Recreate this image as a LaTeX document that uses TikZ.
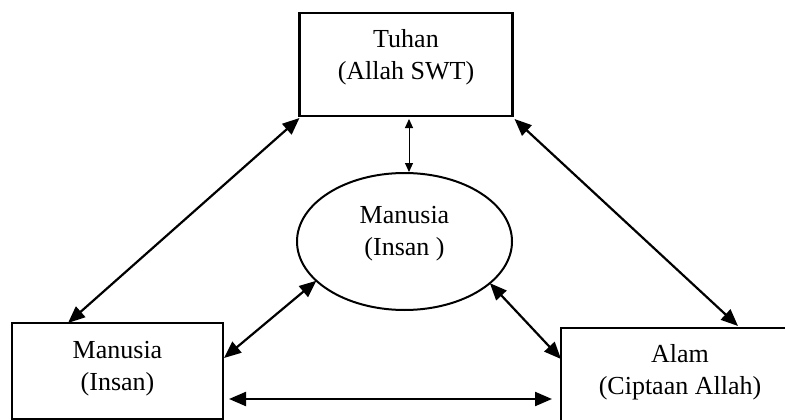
\documentclass[tikz,border=0pt]{standalone}
\usepackage{fontspec}
\setmainfont{Liberation Serif}
\usetikzlibrary{arrows.meta,shapes.geometric,calc}
\tikzset{
  boxnode/.style={draw, line width=2.2pt, rectangle, inner sep=0pt, outer sep=0pt},
  ellnode/.style={draw, line width=2pt, ellipse, inner sep=0pt, outer sep=0pt},
  txt/.style={align=center, inner sep=0pt, font=\fontsize{26}{32}\selectfont},
  bigarrow/.style={line width=2.2pt, {Triangle[length=17pt,width=14pt]}-{Triangle[length=17pt,width=14pt]}},
  smallarrow/.style={line width=1pt, {Triangle[length=9pt,width=8pt]}-{Triangle[length=9pt,width=8pt]}}
}
\begin{document}
\begin{tikzpicture}[x=1pt,y=-1pt]
\useasboundingbox (0,0) rectangle (785,420);
\clip (0,0) rectangle (785,420);
\node[boxnode, minimum width=213pt, minimum height=103pt] (tuhan) at (406,64.5) {};
\node[txt] (tuhantext) at (406,57) {Tuhan\\(Allah SWT)};
\node[boxnode, minimum width=211pt, minimum height=96pt] (kiri) at (117.5,371) {};
\node[txt] (kiritext) at (117.5,369) {Manusia\\(Insan)};
\node[boxnode, minimum width=239pt, minimum height=97pt] (alam) at (680.5,376.5) {};
\node[txt] (alamtext) at (680,372) {Alam\\(Ciptaan Allah)};
\node[ellnode, minimum width=215pt, minimum height=137pt] (insan) at (404.5,241.5) {};
\node[txt] (insantext) at (404.5,234) {Manusia\\(Insan )};
\draw[bigarrow] ([shift={(0,2)}]tuhan.south west) -- ([shift={(56,0)}]kiri.north west);
\draw[bigarrow] ([shift={(2,3)}]tuhan.south east) -- ([shift={(177,-2)}]alam.north west);
\draw[smallarrow] ([shift={(3,3)}]tuhan.south) -- ([shift={(4.5,-1)}]insan.north);
\draw[bigarrow] (insan.204) -- ([shift={(1,-13)}]kiri.east);
\draw[bigarrow] (insan.334) -- ([shift={(0,-17.5)}]alam.west);
\draw[bigarrow] ([shift={(6,28)}]kiri.east) -- ([shift={(-9,22.5)}]alam.west);
\end{tikzpicture}
\end{document}
